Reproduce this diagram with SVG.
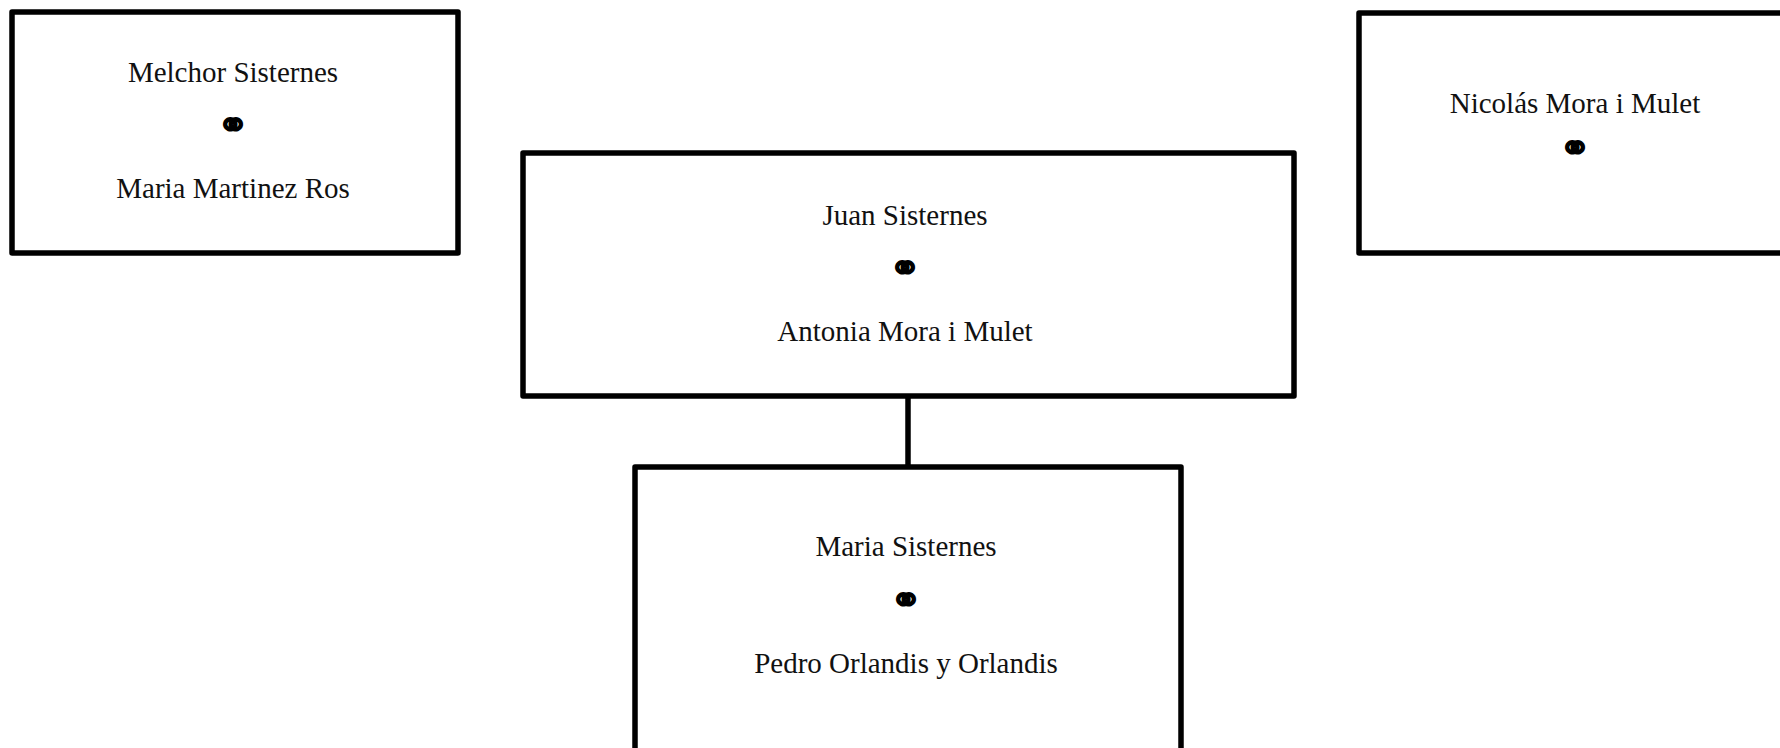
<svg xmlns="http://www.w3.org/2000/svg" width="1780" height="748" viewBox="0 0 1780 748">
  <style>
    .box { fill: #ffffff; stroke: #000000; stroke-width: 5.5; stroke-linejoin: round; }
    .name { font-family: "Liberation Serif", "Times New Roman", serif; font-size: 29px; fill: #111111; text-anchor: middle; }
    .ring { font-family: "DejaVu Sans", sans-serif; font-size: 38px; font-weight: bold; fill: #000000; stroke: #000000; stroke-width: 1.6; text-anchor: middle; }
    .link { stroke: #000000; stroke-width: 5.5; fill: none; }
  </style>
  <rect width="1780" height="748" fill="#ffffff"/>

  <!-- descent connectors -->
  <g id="connectors">
    <line class="link" x1="908" y1="396" x2="908" y2="467"/>
  </g>

  <g id="melchor-maria">
    <rect class="box" x="12" y="12" width="446" height="241"/>
    <text class="name" x="233" y="82">Melchor Sisternes</text>
    <text class="ring" x="233" y="138">⚭</text>
    <text class="name" x="233" y="198">Maria Martinez Ros</text>
  </g>

  <g id="juan-antonia">
    <rect class="box" x="523" y="153" width="771" height="243"/>
    <text class="name" x="905" y="225">Juan Sisternes</text>
    <text class="ring" x="905" y="281">⚭</text>
    <text class="name" x="905" y="341">Antonia Mora i Mulet</text>
  </g>

  <g id="nicolas">
    <rect class="box" x="1359" y="13" width="432" height="240"/>
    <text class="name" x="1575" y="113">Nicolás Mora i Mulet</text>
    <text class="ring" x="1575" y="161">⚭</text>
  </g>

  <g id="maria-pedro">
    <rect class="box" x="635" y="467" width="546" height="300"/>
    <text class="name" x="906" y="556">Maria Sisternes</text>
    <text class="ring" x="906" y="613">⚭</text>
    <text class="name" x="906" y="673">Pedro Orlandis y Orlandis</text>
  </g>
</svg>
